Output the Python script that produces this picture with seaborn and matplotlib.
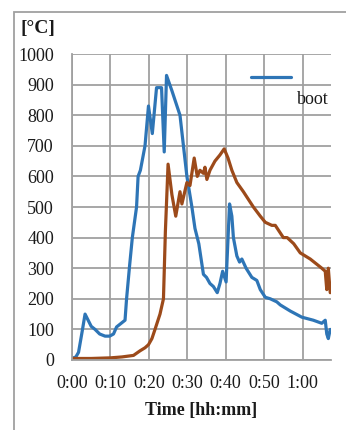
import numpy as np
import pandas as pd
import matplotlib
matplotlib.use("Agg")
import matplotlib.pyplot as plt
import seaborn as sns
from matplotlib.patches import Rectangle

# blue series ("boot"): time in minutes, temperature in °C
boot_min = [0, 1, 1.7, 2.6, 3.4, 4.2, 5, 6, 7.2, 8.6, 9.8, 10.8, 11.6, 12.6, 13.8,
            14.2, 15.0, 15.7, 16.8, 17.2, 17.8, 19.0, 19.9, 20.9, 22.0, 23.3, 24.0,
            24.6, 26.0, 28.1, 29.0, 29.9, 31.2, 32.0, 33.0, 34.2, 35.0, 35.9, 36.8,
            37.8, 38.5, 39.2, 40.1, 41.0, 41.6, 42.0, 42.9, 43.6, 44.2, 45.3, 46.8,
            48.1, 49.0, 50.3, 51.6, 53.3, 54.2, 56.8, 59.8, 62.8, 65.0, 65.9, 66.3,
            66.7, 67.2]
boot_temp = [5, 10, 25, 90, 150, 130, 110, 100, 85, 78, 78, 85, 108, 118, 130,
             200, 310, 400, 500, 600, 620, 700, 830, 740, 890, 890, 680,
             930, 880, 800, 700, 600, 500, 430, 380, 280, 270, 250, 240,
             220, 250, 290, 255, 510, 470, 400, 340, 320, 330, 300, 270,
             260, 230, 205, 200, 190, 180, 160, 140, 130, 120, 130, 85,
             70, 100]

# brown series
s2_min = [0, 5, 10, 13, 16, 17.7, 19.0, 19.9, 20.8, 21.6, 22.9, 23.8, 24.3, 25.0,
          26.0, 27.0, 28.1, 28.6, 29.9, 30.7, 31.8, 32.6, 33.3, 34.2, 34.6, 35.1,
          35.9, 37.2, 38.5, 39.6, 40.6, 41.6, 42.9, 44.6, 47.2, 49.0, 50.3, 52.0,
          52.9, 55.0, 56.0, 57.7, 59.4, 62.0, 65.0, 65.9, 66.3, 66.7, 67.2]
s2_temp = [5, 5, 7, 10, 15, 30, 40, 50, 70, 100, 150, 200, 420, 640,
           540, 470, 550, 510, 580, 570, 660, 600, 620, 610, 630, 590,
           620, 650, 670, 690, 660, 620, 580, 550, 500, 470, 450, 440,
           440, 400, 400, 380, 350, 330, 300, 290, 230, 300, 220]

x_ticks = [0, 10, 20, 30, 40, 50, 60]
x_labels = ["0:00", "0:10", "0:20", "0:30", "0:40", "0:50", "1:00"]
y_ticks = [0, 100, 200, 300, 400, 500, 600, 700, 800, 900, 1000]

boot_df = pd.DataFrame({"min": boot_min, "temp": boot_temp})
s2_df = pd.DataFrame({"min": s2_min, "temp": s2_temp})

sns.set_style("white")
plt.rcParams["font.family"] = ["Liberation Serif", "DejaVu Serif"]

fig = plt.figure(figsize=(3.46, 4.30), dpi=100)
ax = fig.add_axes([72 / 346, 1 - 360 / 430, (331 - 72) / 346, (360 - 54) / 430])

grid_c = "#a0a0a0"
txt_c = "#1a1a1a"
ax.set_xlim(0, 67.4)
ax.set_ylim(0, 1000)
ax.set_xticks(x_ticks)
ax.set_xticklabels(x_labels)
ax.set_yticks(y_ticks)
ax.grid(True, color=grid_c, linewidth=1.3)
ax.set_axisbelow(True)
for side in ["top", "right"]:
    ax.spines[side].set_visible(False)
for side in ["left", "bottom"]:
    ax.spines[side].set_color(grid_c)
    ax.spines[side].set_linewidth(1.3)
ax.tick_params(axis="both", direction="out", length=4, width=1.3, color=grid_c,
               labelsize=13, labelcolor=txt_c)
ax.tick_params(axis="y", pad=9)
ax.tick_params(axis="x", pad=7)

sns.lineplot(data=boot_df, x="min", y="temp", ax=ax, color="#2E75B6",
             linewidth=2.3, sort=False)
sns.lineplot(data=s2_df, x="min", y="temp", ax=ax, color="#9C4A1A",
             linewidth=2.3, sort=False)

ax.set_xlabel("Time [hh:mm]", fontsize=13, fontweight="bold", labelpad=7,
              color=txt_c)
ax.set_ylabel("")
fig.text(20 / 346, 1 - 29 / 430, "[°C]", fontsize=14, fontweight="bold",
         va="center", ha="left", color=txt_c)

# legend: short line with label wrapped beneath it
ax.plot([0.69, 0.845], [0.926, 0.926], transform=ax.transAxes,
        color="#2E75B6", linewidth=2.3)
ax.text(0.99, 0.85, "boot", transform=ax.transAxes, fontsize=13,
        ha="right", va="center", color=txt_c)

# outer chart frame
fig.patches.append(Rectangle((14 / 346, -0.1), 1.2, 1 - 12 / 430 + 0.1,
                             transform=fig.transFigure, fill=False,
                             edgecolor="#a0a0a0", linewidth=1.3))

fig.savefig("out.png", dpi=100)
